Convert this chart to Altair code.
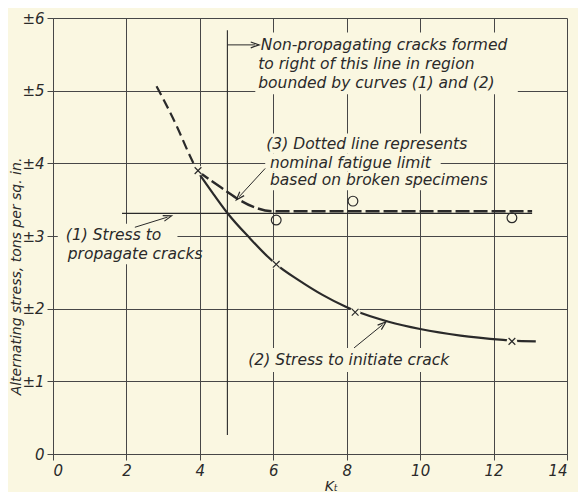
import altair as alt
import pandas as pd

# ---------------- data ----------------
# curve (2): stress to initiate crack (dashed start, then solid)
c2_dash_x = [2.82, 3.39, 3.66, 3.92]
c2_dash_y = [5.06, 4.49, 4.18, 3.90]
c2_x = [3.92, 4.38, 4.76, 5.38, 5.86, 6.08, 6.7, 7.34, 7.96, 8.23, 9.14, 10.0, 11.1, 12.26, 12.5, 13.15]
c2_y = [3.90, 3.57, 3.31, 2.96, 2.71, 2.61, 2.39, 2.19, 2.03, 1.97, 1.82, 1.72, 1.63, 1.57, 1.56, 1.55]
# curve (3): nominal fatigue limit (dotted / dashed)
c3_x = [3.92, 4.57, 5.0, 5.46, 6.0, 13.05]
c3_y = [3.90, 3.67, 3.52, 3.40, 3.34, 3.34]
# curve (1): stress to propagate cracks
c1_x = [1.88, 13.05]
c1_y = [3.31, 3.31]
# vertical boundary line
vline_x = [4.75, 4.75]
vline_y = [0.26, 5.83]
# crack-initiation points (x markers) and broken specimens (circles)
cross_x = [3.95, 6.08, 8.23, 12.5]
cross_y = [3.90, 2.61, 1.95, 1.55]
circ_x = [6.08, 8.17, 12.5]
circ_y = [3.22, 3.48, 3.25]

x_ticks = [0, 2, 4, 6, 8, 10, 12, 14]
y_ticks = [0, 1, 2, 3, 4, 5, 6]

notes_text = [
    "Non-propagating cracks formed",
    "to right of this line in region",
    "bounded by curves (1) and (2)",
    "(3) Dotted line represents",
    "nominal fatigue limit",
    "based on broken specimens",
    "(1) Stress to",
    "propagate cracks",
    "(2) Stress to initiate crack",
]
notes_x = [5.66, 5.59, 5.59, 5.81, 5.91, 5.91, 0.35, 0.40, 5.32]
notes_y = [5.63, 5.37, 5.10, 4.27, 4.00, 3.77, 3.02, 2.75, 1.29]

# masks behind lettering (gridlines are interrupted there)
mask_x = [5.51, 5.73, 5.78, 5.78, 0.13, 5.24]
mask_x2 = [12.66, 11.64, 10.56, 11.83, 3.39, 11.45]
mask_y = [5.80, 4.41, 4.14, 3.89, 3.17, 1.46]
mask_y2 = [4.95, 4.14, 3.89, 3.63, 2.61, 1.13]

# arrows: start -> end, head angle (deg, screen)
arr_x = [4.75, 5.78, 2.23, 8.20]
arr_y = [5.63, 3.93, 3.12, 1.46]
arr_x2 = [5.50, 5.07, 3.12, 8.98]
arr_y2 = [5.63, 3.54, 3.26, 1.78]
arr_angle = [0, 132, 343, 320]

BG = "#faf7e1"
INK = "#2a2a2a"
GRID = "#474747"
FONT = "DejaVu Sans"

xs = alt.Scale(domain=[0, 14], nice=False, zero=False)
ys = alt.Scale(domain=[0, 6], nice=False, zero=False)

x_axis = alt.Axis(
    values=x_ticks, grid=True, gridColor=GRID, gridWidth=1, gridOpacity=1,
    domainColor=GRID, domainWidth=1, tickColor=GRID, tickSize=6, tickWidth=1,
    labelFont=FONT, labelFontStyle="italic", labelFontSize=15, labelColor=INK,
    labelPadding=3, title="Kₜ", titleFont=FONT, titleFontStyle="italic",
    titleFontWeight="normal", titleFontSize=14, titleColor=INK, titlePadding=1,
    titleX=278, titleAlign="center",
)
y_axis = alt.Axis(
    values=y_ticks, grid=True, gridColor=GRID, gridWidth=1, gridOpacity=1,
    domainColor=GRID, domainWidth=1, tickColor=GRID, tickSize=6, tickWidth=1,
    labelExpr="datum.value == 0 ? '0' : '±' + datum.value",
    labelFont=FONT, labelFontStyle="italic", labelFontSize=15, labelColor=INK,
    labelPadding=3, title="Alternating stress, tons per sq. in.", titleFont=FONT,
    titleFontStyle="italic", titleFontWeight="normal", titleFontSize=14,
    titleColor=INK, titleX=-37, titleY=258, titleAngle=270,
    titleAlign="center", titleBaseline="middle",
)


def X(field="x"):
    return alt.X(f"{field}:Q", scale=xs, axis=x_axis)


def Y(field="y"):
    return alt.Y(f"{field}:Q", scale=ys, axis=y_axis)


masks = pd.DataFrame({"x": mask_x, "x2": mask_x2, "y": mask_y, "y2": mask_y2})
base = alt.Chart(masks).mark_rect(color=BG).encode(
    x=X(), x2="x2", y=Y(), y2="y2"
)

vline = alt.Chart(pd.DataFrame({"x": vline_x, "y": vline_y})).mark_line(
    color=INK, strokeWidth=1.1
).encode(x=X(), y=Y())

line1 = alt.Chart(pd.DataFrame({"x": c1_x, "y": c1_y})).mark_line(
    color=INK, strokeWidth=1.3
).encode(x=X(), y=Y())

c2d = alt.Chart(pd.DataFrame({"x": c2_dash_x, "y": c2_dash_y})).mark_line(
    color=INK, strokeWidth=2.2, strokeDash=[10, 5], interpolate="monotone"
).encode(x=X(), y=Y())

c2s = alt.Chart(pd.DataFrame({"x": c2_x, "y": c2_y})).mark_line(
    color=INK, strokeWidth=2.2, interpolate="monotone"
).encode(x=X(), y=Y())

c3 = alt.Chart(pd.DataFrame({"x": c3_x, "y": c3_y})).mark_line(
    color=INK, strokeWidth=2.4, strokeDash=[14, 4], interpolate="monotone"
).encode(x=X(), y=Y())

pts_cross = pd.DataFrame({"x": cross_x, "y": cross_y})
halo = alt.Chart(pts_cross).mark_point(
    shape="circle", filled=True, color=BG, size=110, opacity=1
).encode(x=X(), y=Y())
crosses = alt.Chart(pts_cross).mark_point(
    shape="M-1,-1L1,1M-1,1L1,-1", filled=False, color=INK, size=45,
    strokeWidth=1.2, opacity=1
).encode(x=X(), y=Y())

circles = alt.Chart(pd.DataFrame({"x": circ_x, "y": circ_y})).mark_point(
    shape="circle", filled=False, color=INK, size=95, strokeWidth=1.2, opacity=1
).encode(x=X(), y=Y())

notes = alt.Chart(pd.DataFrame({"x": notes_x, "y": notes_y, "t": notes_text})).mark_text(
    align="left", baseline="middle", font=FONT, fontStyle="italic",
    fontSize=15.5, color=INK
).encode(x=X(), y=Y(), text="t:N")

arr = pd.DataFrame({"x": arr_x, "y": arr_y, "x2": arr_x2, "y2": arr_y2, "a": arr_angle})
arr_lines = alt.Chart(arr).mark_rule(color=INK, strokeWidth=1).encode(
    x=X(), y=Y(), x2="x2", y2="y2"
)
arr_heads = alt.Chart(arr).mark_point(
    shape="M-1,-0.7L1,0L-1,0.7", filled=False, color=INK, size=70,
    strokeWidth=1.2, opacity=1
).encode(x=X("x2"), y=Y("y2"), angle=alt.Angle("a:Q", scale=None))

chart = alt.layer(
    base, vline, line1, c2d, c2s, c3, halo, crosses, circles, notes, arr_lines, arr_heads
).properties(
    width=514, height=436,
    autosize=alt.AutoSizeParams(type="none"),
    padding={"left": 45, "top": 10, "right": 11, "bottom": 38},
).configure(background=BG).configure_view(strokeWidth=0)

chart.save("out.html", embed_options={"renderer": "svg", "actions": False})
